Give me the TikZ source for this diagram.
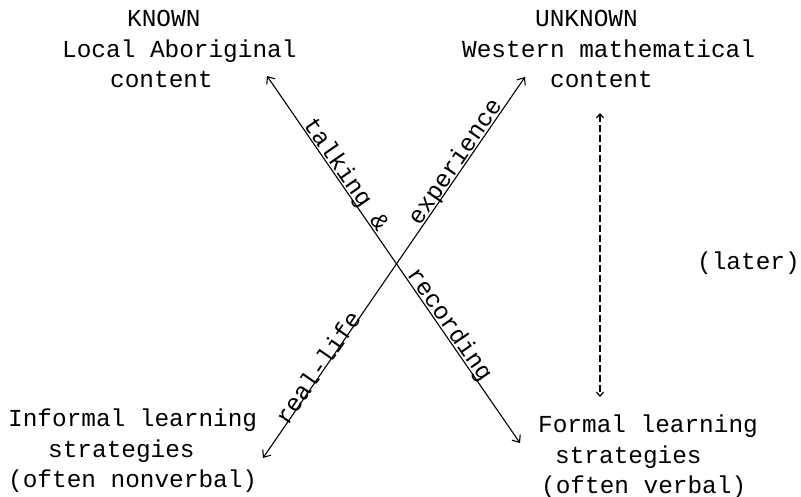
\documentclass[tikz,border=0pt]{standalone}
\usepackage{fontspec}
\setmainfont{Liberation Mono}
\usetikzlibrary{arrows.meta}
\begin{document}
\begin{tikzpicture}[x=1pt,y=-1pt,
  txt/.style={inner sep=0pt, align=left, anchor=north west, font=\fontsize{24.4}{30.5}\selectfont},
  lab/.style={inner sep=0pt, font=\fontsize{24.4}{30.5}\selectfont, sloped, above=-3.5pt},
  conn/.style={line width=1.1pt, {Straight Barb[length=6pt,width=10pt]}-{Straight Barb[length=6pt,width=10pt]}},
  later/.style={line width=1.2pt, dash pattern=on 7pt off 3pt, {Straight Barb[length=4pt,width=7pt]}-{Straight Barb[length=4pt,width=7pt]}}
]
\useasboundingbox (0,0) rectangle (801,497);
\node[txt] (known) at (62,10) {\hspace*{65pt}KNOWN\\Local Aboriginal\\\hspace*{48pt}content};
\node[txt] (unknown) at (462,10) {\hspace*{73pt}UNKNOWN\\Western mathematical\\\hspace*{88pt}content};
\node[txt] (informal) at (8,409) {Informal learning\\\hspace*{40pt}strategies\\(often nonverbal)};
\node[txt] (formal) at (538,415) {Formal learning\\\hspace*{17pt}strategies\\\hspace*{3pt}(often verbal)};
\node[txt] (later) at (697,252) {(later)};
\coordinate (a1) at (267,76);
\coordinate (a2) at (520,443);
\coordinate (b1) at (263,458);
\coordinate (b2) at (525,77);
\coordinate (d1) at (600,113);
\coordinate (d2) at (600,397);
\draw[conn] (a1) -- node[lab,pos=0.282]{talking \&} node[lab,pos=0.692]{recording} (a2);
\draw[conn] (b1) -- node[lab,pos=0.228]{real-life} node[lab,pos=0.763]{experience} (b2);
\draw[later] (d1) -- (d2);
\end{tikzpicture}
\end{document}
